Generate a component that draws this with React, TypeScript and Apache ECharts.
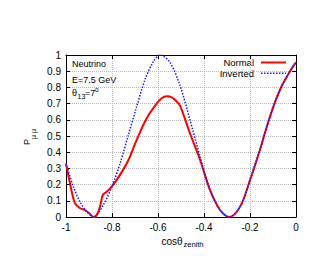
import React, { useEffect, useRef } from "react";
import * as echarts from "echarts";

const xTicks = [-1, -0.8, -0.6, -0.4, -0.2, 0];
const yTicks = [0, 0.1, 0.2, 0.3, 0.4, 0.5, 0.6, 0.7, 0.8, 0.9, 1];

const normalX = [-1, -0.983, -0.961, -0.939, -0.917, -0.896, -0.881, -0.867, -0.852, -0.84, -0.823, -0.801, -0.765, -0.729, -0.693, -0.649, -0.606, -0.584, -0.562, -0.54, -0.518, -0.504, -0.461, -0.417, -0.374, -0.33, -0.29, -0.243, -0.2, -0.157, -0.113, -0.07, -0.026, 0];
const normalY = [0.33, 0.21, 0.085, 0.054, 0.043, 0.02, 0.0, 0.01, 0.064, 0.136, 0.156, 0.187, 0.26, 0.35, 0.475, 0.61, 0.70, 0.733, 0.745, 0.738, 0.712, 0.688, 0.517, 0.352, 0.167, 0.043, 0.0, 0.064, 0.228, 0.414, 0.62, 0.784, 0.90, 0.955];

const invertedX = [-1, -0.968, -0.939, -0.91, -0.881, -0.838, -0.801, -0.765, -0.729, -0.693, -0.657, -0.62, -0.591, -0.548, -0.504, -0.461, -0.417, -0.374, -0.33, -0.29, -0.243, -0.2, -0.157, -0.113, -0.07, -0.026, 0];
const invertedY = [0.33, 0.187, 0.094, 0.033, 0.0, 0.074, 0.187, 0.33, 0.506, 0.68, 0.846, 0.96, 1.0, 0.955, 0.81, 0.60, 0.372, 0.167, 0.043, 0.0, 0.064, 0.228, 0.414, 0.62, 0.784, 0.90, 0.96];

const seriesNames = ["Normal", "Inverted"];
const FONT = "Liberation Sans, Arial, sans-serif";
const RED = "#ff0000";
const BLUE = "#1a1aff";

export default function App() {
  const ref = useRef<HTMLDivElement>(null);
  useEffect(() => {
    if (!ref.current) return;
    const chart = echarts.init(ref.current, null, { renderer: "svg" });
    const tickStyle = { show: true, inside: true, length: 4, lineStyle: { color: "#000" } };
    const axisLine = { show: true, onZero: false, lineStyle: { color: "#000", width: 1 } };
    const split = { show: true, lineStyle: { color: "#b8b8b8", type: "dotted" as const, width: 1 } };
    const labelStyle = { color: "#000", fontSize: 10, fontFamily: FONT };
    const fmt = (list: number[]) => (v: number) => {
      const r = Math.round(v * 10) / 10;
      return list.includes(r) ? String(r) : "";
    };
    const txt = (text: string, x: number, y: number, size: number, extra: any = {}) => ({
      type: "text", x, y, silent: true,
      style: { text, fontSize: size, fontFamily: FONT, fill: "#000", align: "left", verticalAlign: "middle", ...extra },
    });
    chart.setOption({
      animation: false,
      grid: { left: 66, right: 16, top: 55, bottom: 56 },
      xAxis: [
        {
          type: "value", min: -1, max: 0, interval: 0.2,
          axisLine, axisTick: tickStyle, splitLine: split,
          axisLabel: { ...labelStyle, margin: 5, formatter: fmt(xTicks) },
        },
        {
          type: "value", position: "top", min: -1, max: 0, interval: 0.2,
          axisLine, axisTick: tickStyle, splitLine: { show: false }, axisLabel: { show: false },
        },
      ],
      yAxis: [
        {
          type: "value", min: 0, max: 1, interval: 0.1,
          axisLine, axisTick: tickStyle, splitLine: split,
          axisLabel: { ...labelStyle, margin: 5, formatter: fmt(yTicks) },
        },
        {
          type: "value", position: "right", min: 0, max: 1, interval: 0.1,
          axisLine, axisTick: tickStyle, splitLine: { show: false }, axisLabel: { show: false },
        },
      ],
      series: [
        {
          name: seriesNames[0], type: "line", smooth: 0.35, showSymbol: false, symbol: "none",
          lineStyle: { color: RED, width: 2 }, itemStyle: { color: RED }, z: 3,
          data: normalX.map((x, i) => [x, normalY[i]]),
        },
        {
          name: seriesNames[1], type: "line", smooth: 0.3, showSymbol: false, symbol: "none",
          lineStyle: { color: BLUE, width: 1.5, type: [1.5, 1.5] }, itemStyle: { color: BLUE }, z: 4,
          data: invertedX.map((x, i) => [x, invertedY[i]]),
        },
      ],
      graphic: [
        txt("Neutrino", 72, 63.5, 9),
        txt("E=7.5 GeV", 72, 79.5, 9),
        txt("θ", 72, 93, 9),
        txt("13", 77.5, 96, 7),
        txt("=7", 85, 93, 9),
        txt("o", 95, 89.5, 6.5),
        { type: "text", x: 26.5, y: 145, rotation: Math.PI / 2, silent: true, style: { text: "P", fontSize: 9, fontFamily: FONT, fill: "#000", align: "left", verticalAlign: "middle" } },
        { type: "text", x: 33, y: 139, rotation: Math.PI / 2, silent: true, style: { text: "μ μ", fontSize: 7, fontFamily: FONT, fill: "#000", align: "left", verticalAlign: "middle" } },
        txt("cosθ", 161.5, 241, 10),
        txt("zenith", 183.5, 244, 7.5),
        txt(seriesNames[0], 254, 62.5, 9.5, { align: "right" }),
        txt(seriesNames[1], 254, 73.3, 9.5, { align: "right" }),
        { type: "line", silent: true, shape: { x1: 261, y1: 62.5, x2: 286, y2: 62.5 }, style: { stroke: RED, lineWidth: 2 } },
        { type: "line", silent: true, shape: { x1: 261, y1: 73.3, x2: 286, y2: 73.3 }, style: { stroke: BLUE, lineWidth: 1.5, lineDash: [1.5, 1.5] } },
      ],
    });
    return () => chart.dispose();
  }, []);
  return <div ref={ref} style={{ position: "absolute", left: 0, top: 0, width: 312, height: 273 }} />;
}
